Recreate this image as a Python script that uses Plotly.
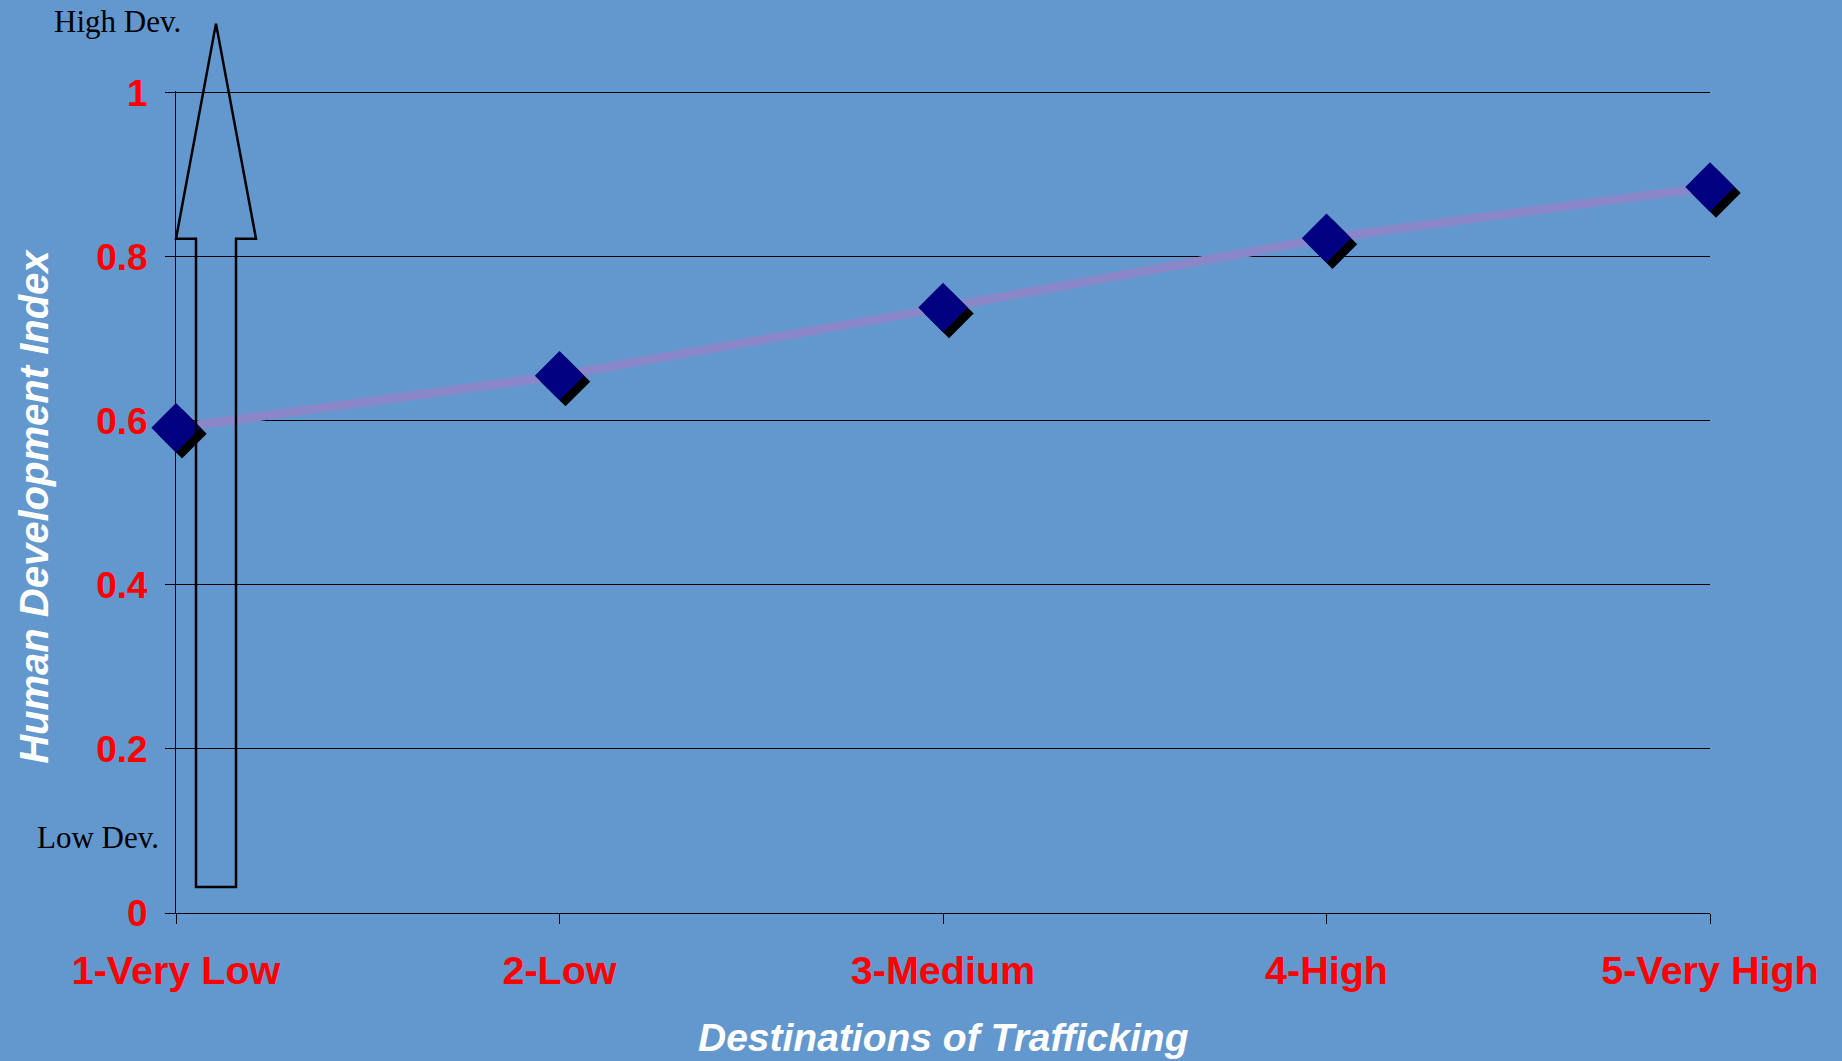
import plotly.graph_objects as go

# ---- data ----
categories = ["1-Very Low", "2-Low", "3-Medium", "4-High", "5-Very High"]
hdi_values = [0.5915, 0.655, 0.738, 0.8226, 0.885]
y_ticks = [0, 0.2, 0.4, 0.6, 0.8, 1.0]
x_title = "Destinations of Trafficking"
y_title = "Human Development Index"

# ---- layout constants (pixels) ----
W, H = 1842, 1061
X0, X1 = 176, 1710          # pixel extent of category axis
Y0, Y1 = 913, 93            # pixel of y=0 and y=1
SHADOW_PX = 6
Y_TOP = 1.002               # tiny headroom so the y=1 gridline is drawn
BG = "#6398CE"

L = X0
R = W - X1 - SHADOW_PX
PW_MAIN = X1 - X0
PW = PW_MAIN + SHADOW_PX
PH = (Y0 - Y1) * Y_TOP
B = H - Y0
T = H - B - PH

x_idx = list(range(len(categories)))
x_span = len(categories) - 1
dx = SHADOW_PX * x_span / PW_MAIN
dy = SHADOW_PX / (Y0 - Y1)

fig = go.Figure()
# empty trace so the ticked axes (x, y) are drawn
fig.add_trace(go.Scatter(x=[], y=[], xaxis="x", yaxis="y", mode="markers",
                         hoverinfo="skip", showlegend=False))
# all marks live on x2/y2 (same scale as x/y, slightly wider so the last shadow is not hidden)
fig.add_trace(go.Scatter(
    x=x_idx, y=hdi_values, mode="lines", xaxis="x2", yaxis="y2",
    line=dict(color="#8A87C9", width=9),
    cliponaxis=False, hoverinfo="skip", showlegend=False))
fig.add_trace(go.Scatter(
    x=[v + dx for v in x_idx], y=[v - dy for v in hdi_values], mode="markers",
    xaxis="x2", yaxis="y2",
    marker=dict(symbol="diamond", size=38, color="black", line=dict(width=0)),
    cliponaxis=False, hoverinfo="skip", showlegend=False))
fig.add_trace(go.Scatter(
    x=x_idx, y=hdi_values, mode="markers", xaxis="x2", yaxis="y2",
    marker=dict(symbol="diamond", size=38, color="#000080", line=dict(width=0)),
    cliponaxis=False, showlegend=False))


def px_x(p):
    return (p - L) / PW


def px_y(p):
    return (H - B - p) / PH


# big hollow arrow (pixel outline -> paper coords)
arrow_px = [(216, 24), (256, 239), (236, 239), (236, 887), (196, 887), (196, 239), (176, 239)]
path = "M " + " L ".join(f"{px_x(a):.5f},{px_y(b):.5f}" for a, b in arrow_px) + " Z"
fig.add_shape(type="path", path=path, xref="paper", yref="paper",
              line=dict(color="black", width=2.5), fillcolor="rgba(0,0,0,0)", layer="above")

serif = "Liberation Serif, Times New Roman, serif"
sans = "Liberation Sans, Arial, sans-serif"

fig.add_annotation(text="High Dev.", xref="paper", yref="paper", x=px_x(117), y=px_y(22),
                   xanchor="center", yanchor="middle", showarrow=False,
                   font=dict(family=serif, size=31, color="black"))
fig.add_annotation(text="Low Dev.", xref="paper", yref="paper", x=px_x(98), y=px_y(838),
                   xanchor="center", yanchor="middle", showarrow=False,
                   font=dict(family=serif, size=31, color="black"))
fig.add_annotation(text=f"<b><i>{x_title}</i></b>", xref="paper", yref="paper",
                   x=px_x((X0 + X1) / 2), y=px_y(1037), xanchor="center", yanchor="middle",
                   showarrow=False, font=dict(family=sans, size=39, color="white"))
fig.add_annotation(text=f"<b><i>{y_title}</i></b>", xref="paper", yref="paper",
                   x=px_x(34), y=px_y(507), xanchor="center", yanchor="middle", showarrow=False,
                   textangle=-90, font=dict(family=sans, size=40, color="white"))

fig.update_layout(
    width=W, height=H,
    margin=dict(l=L, r=R, t=T, b=B, pad=0),
    paper_bgcolor=BG, plot_bgcolor="rgba(0,0,0,0)",
    xaxis=dict(domain=[0, PW_MAIN / PW], range=[0, x_span], tickvals=x_idx, ticktext=categories,
               anchor="y",
               showgrid=False, zeroline=False, showline=True, linecolor="black", linewidth=1,
               ticks="outside", ticklen=10, tickcolor="black", tickwidth=1,
               tickfont=dict(family=sans, size=39.5, color="#FF0000", weight="bold"),
               ticklabelstandoff=13, automargin=False, fixedrange=True),
    xaxis2=dict(domain=[0, 1], range=[0, x_span * PW / PW_MAIN],
                anchor="y2", visible=False, showgrid=False, fixedrange=True),
    yaxis=dict(range=[0, Y_TOP], tickvals=y_ticks, ticktext=[f"{v:g}" for v in y_ticks],
               anchor="x",
               showgrid=True, gridcolor="black", gridwidth=1, zeroline=False,
               showline=True, linecolor="black", linewidth=1,
               ticks="outside", ticklen=10, tickcolor="black", tickwidth=1,
               tickfont=dict(family=sans, size=37, color="#FF0000", weight="bold"),
               ticklabelstandoff=10, automargin=False, fixedrange=True),
    yaxis2=dict(domain=[0, 1], range=[0, Y_TOP], anchor="x2", visible=False,
                showgrid=False, zeroline=False, fixedrange=True),
    showlegend=False,
)

fig.write_html("out.html", config={"displayModeBar": False},
               post_script="document.body.style.margin='0';document.body.style.overflow='hidden';")
